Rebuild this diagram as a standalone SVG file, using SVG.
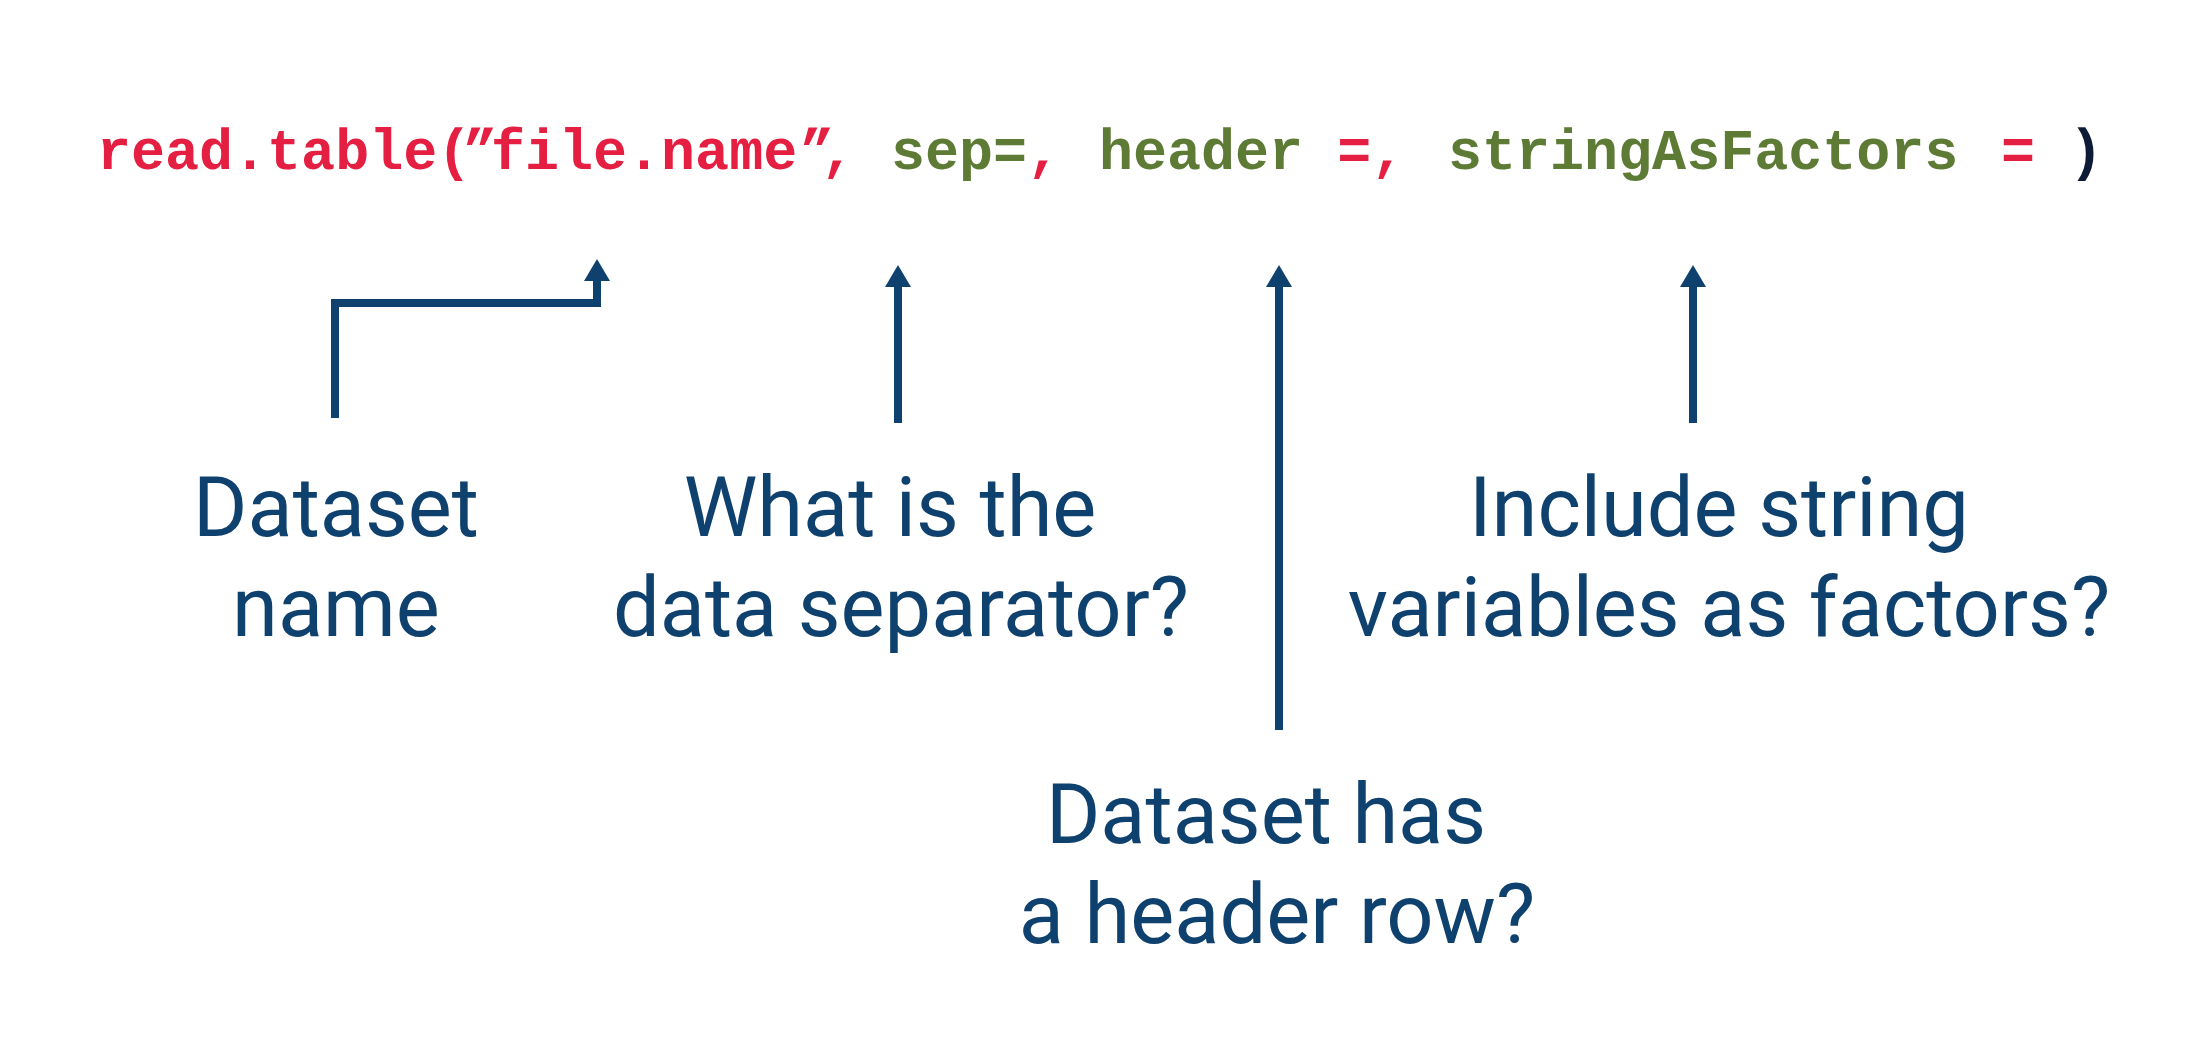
<svg xmlns="http://www.w3.org/2000/svg" width="2204" height="1062" viewBox="0 0 2204 1062">
<style>
.code{font-family:"Liberation Mono","Courier New",monospace;font-weight:bold;font-size:56.7px}
.r{fill:#e41f41}
.g{fill:#5e7b36}
.k{fill:#0d1a38}
.lbl{font-family:Roboto,"Liberation Sans",sans-serif;font-size:83px;fill:#0f416f;text-anchor:middle}
.ar{fill:none;stroke:#0f416f;stroke-width:8;stroke-linejoin:miter;marker-end:url(#ah)}
</style>
<defs>
<marker id="ah" markerUnits="userSpaceOnUse" markerWidth="22" markerHeight="26" refX="0" refY="13" orient="auto" overflow="visible">
<path d="M0,0 L22,13 L0,26 z" fill="#0f416f"/>
</marker>
</defs>
<rect width="2204" height="1062" fill="#ffffff"/>
<g id="code">
<text class="code" y="169" xml:space="preserve"><tspan class="r" x="97">read.table(</tspan><tspan class="r" x="463">”</tspan><tspan class="r" x="491">file.name</tspan><tspan class="r" x="800">”</tspan><tspan class="r" x="821">,</tspan><tspan class="g" x="891">sep=</tspan><tspan class="r">,</tspan><tspan class="g" x="1099">header</tspan><tspan class="r"> =,</tspan><tspan class="g" x="1448">stringAsFactors</tspan><tspan class="r" x="2001">=</tspan><tspan class="k" x="2069">)</tspan></text>
</g>
<g id="connectors">
<polyline class="ar" points="335,418 335,303 597,303 597,281"/>
<line class="ar" x1="898" y1="423" x2="898" y2="287"/>
<line class="ar" x1="1279" y1="730" x2="1279" y2="287"/>
<line class="ar" x1="1693" y1="423" x2="1693" y2="287"/>
</g>
<g id="label-dataset-name">
<text class="lbl" x="336" y="536">Dataset</text>
<text class="lbl" x="336" y="636">name</text>
</g>
<g id="label-separator">
<text class="lbl" x="890" y="536">What is the</text>
<text class="lbl" x="901" y="636">data separator?</text>
</g>
<g id="label-header">
<text class="lbl" x="1266" y="843">Dataset has</text>
<text class="lbl" x="1277" y="943">a header row?</text>
</g>
<g id="label-factors">
<text class="lbl" x="1719" y="536">Include string</text>
<text class="lbl" x="1729" y="636">variables as factors?</text>
</g>
</svg>
